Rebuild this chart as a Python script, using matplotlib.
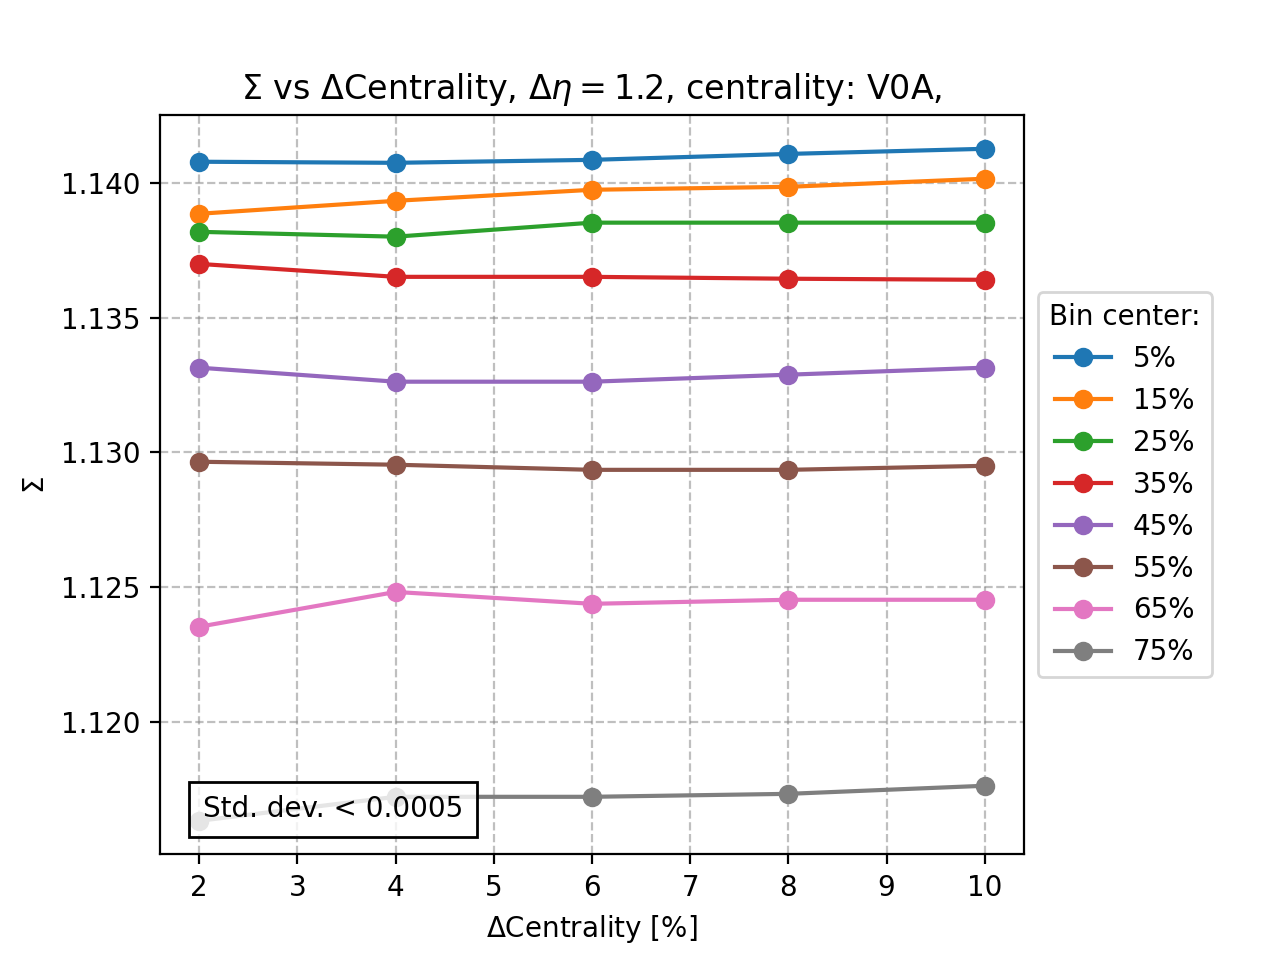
import matplotlib
matplotlib.use('Agg')
import matplotlib.pyplot as plt

# data
delta_cent = [2, 4, 6, 8, 10]
bin_centers = ['5%', '15%', '25%', '35%', '45%', '55%', '65%', '75%']
sigma = [
    [1.14078, 1.14074, 1.14085, 1.14107, 1.14126],
    [1.13885, 1.13933, 1.13974, 1.13985, 1.14015],
    [1.13818, 1.13800, 1.13852, 1.13852, 1.13852],
    [1.13699, 1.13651, 1.13651, 1.13644, 1.13640],
    [1.13314, 1.13262, 1.13262, 1.13288, 1.13314],
    [1.12965, 1.12954, 1.12935, 1.12935, 1.12950],
    [1.12353, 1.12482, 1.12438, 1.12453, 1.12453],
    [1.11633, 1.11722, 1.11722, 1.11733, 1.11763],
]

fig, ax = plt.subplots(figsize=(6.4, 4.8), dpi=200)
for label, vals in zip(bin_centers, sigma):
    ax.plot(delta_cent, vals, marker='o', label=label)

ax.grid(True, linestyle='--', color='gray', alpha=0.5)
ax.set_xlabel(r'$\Delta$Centrality [%]')
ax.set_ylabel(r'$\Sigma$')
ax.set_title(r'$\Sigma$ vs $\Delta$Centrality, $\Delta\eta = 1.2$, centrality: V0A,')
ax.text(0.05, 0.05, 'Std. dev. < 0.0005', transform=ax.transAxes,
        bbox=dict(boxstyle='square,pad=0.5', facecolor=(1, 1, 1, 0.8),
                  edgecolor='black'))
ax.legend(title='Bin center:', loc='center left', bbox_to_anchor=(1.0, 0.5))

fig.subplots_adjust(right=0.8)
fig.savefig('out.png')
